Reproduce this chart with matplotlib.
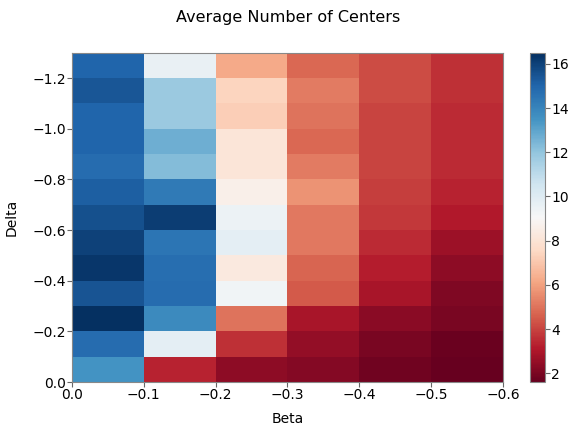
import numpy as np
import matplotlib
matplotlib.use("Agg")
import matplotlib.pyplot as plt

beta_edges = [0.0, -0.1, -0.2, -0.3, -0.4, -0.5, -0.6]
delta_edges = [0.0, -0.1, -0.2, -0.3, -0.4, -0.5, -0.6, -0.7,
               -0.8, -0.9, -1.0, -1.1, -1.2, -1.3]

# average number of centers, rows = delta bins (0 -> -1.3), cols = beta bins
centers = [
    [13.5, 3.3, 2.4, 2.2, 1.8, 1.6],
    [14.8, 9.8, 3.6, 2.5, 2.0, 1.7],
    [16.5, 13.8, 5.0, 2.9, 2.3, 2.0],
    [15.5, 14.8, 9.3, 4.5, 2.9, 2.1],
    [16.3, 14.7, 8.3, 4.7, 3.2, 2.4],
    [16.0, 14.5, 9.8, 5.1, 3.5, 2.7],
    [15.6, 16.1, 9.5, 5.1, 3.8, 3.1],
    [15.2, 14.3, 8.6, 5.7, 3.9, 3.3],
    [14.8, 12.3, 8.1, 5.2, 4.0, 3.5],
    [15.0, 12.7, 8.1, 4.8, 4.0, 3.5],
    [15.0, 11.8, 7.2, 5.0, 4.0, 3.5],
    [15.4, 11.8, 7.4, 5.2, 4.2, 3.6],
    [15.0, 9.6, 6.2, 4.8, 4.2, 3.6],
]

fig = plt.figure(figsize=(5.71, 4.26), dpi=100)
ax = fig.add_axes([0.126, 0.103, 0.755, 0.773])
cax = fig.add_axes([0.928, 0.103, 0.026, 0.773])

mesh = ax.pcolormesh(beta_edges, delta_edges, np.array(centers), cmap="RdBu")
ax.set_xlim(0.0, -0.6)
ax.set_ylim(0.0, -1.3)
ax.set_yticks([0.0, -0.2, -0.4, -0.6, -0.8, -1.0, -1.2])
ax.set_xticks([0.0, -0.1, -0.2, -0.3, -0.4, -0.5, -0.6])
ax.tick_params(labelsize=10, pad=1, color="#666666")
ax.set_xlabel("Beta", fontsize=10)
ax.set_ylabel("Delta", fontsize=10)
ax.xaxis.set_label_coords(0.5, -0.092)
ax.yaxis.set_label_coords(-0.123, 0.5)
for s in ax.spines.values():
    s.set_color("#888888")

cb = fig.colorbar(mesh, cax=cax)
cb.set_ticks([2, 4, 6, 8, 10, 12, 14, 16])
cb.ax.tick_params(labelsize=10, pad=1, color="#666666")
cb.outline.set_edgecolor("#888888")

fig.suptitle("Average Number of Centers", fontsize=11.5, x=0.504, y=0.977)

fig.savefig("out.png", dpi=100)
